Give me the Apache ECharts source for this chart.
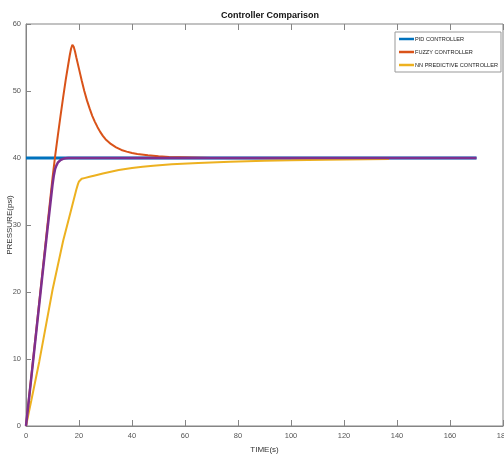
<!DOCTYPE html>
<html>
<head>
<meta charset="utf-8">
<script src="https://cdn.jsdelivr.net/npm/echarts@6/dist/echarts.min.js"></script>
<style>
  html, body { margin: 0; padding: 0; background: #fff; }
  #main { width: 504px; height: 456px; }
</style>
</head>
<body>
<div id="main"></div>
<script>
// series names (the purple reference trace is not in the legend)
var names = ['PID CONTROLLER', 'FUZZY CONTROLLER', 'NN PREDICTIVE CONTROLLER'];

// PID
var pidT = [0, 170];
var pidV = [40, 40];

// fuzzy
var fuzzyT = [0, 2, 4, 6, 8, 10, 11, 12, 13, 14, 15, 16, 16.5, 17, 17.5, 18, 18.5, 19, 20, 21, 22, 23, 24, 25, 26, 27, 28, 29, 30, 32, 34, 36, 38, 40, 42, 46, 50, 54, 70, 100, 137];
var fuzzyV = [0, 7.4, 14.8, 22.2, 29.6, 37, 40.3, 43.3, 46.2, 49.0, 51.7, 54.1, 55.3, 56.3, 56.9, 56.6, 55.9, 55.0, 53.3, 51.6, 50.0, 48.6, 47.4, 46.3, 45.4, 44.6, 43.9, 43.3, 42.8, 42.1, 41.6, 41.2, 40.95, 40.75, 40.6, 40.4, 40.25, 40.15, 40.0, 39.95, 39.9];

// NN predictive
var nnT = [0, 2, 5, 10, 14, 17, 19, 19.6, 20, 20.5, 21, 22, 24, 26, 29, 32, 35, 40, 44, 48, 55, 65, 77, 90, 100, 113, 137];
var nnV = [0, 3.8, 9.6, 20.3, 27.6, 32.2, 35.3, 36.1, 36.5, 36.75, 36.9, 37.0, 37.2, 37.4, 37.7, 37.95, 38.2, 38.5, 38.7, 38.85, 39.05, 39.25, 39.45, 39.6, 39.65, 39.75, 39.85];

// purple trace
var refT = [0, 2, 4, 6, 8, 10, 10.5, 11, 11.5, 12, 12.5, 13, 14, 15, 16, 20, 170];
var refV = [0, 7.2, 14.5, 21.8, 29.0, 36.0, 37.4, 38.4, 38.9, 39.3, 39.55, 39.7, 39.88, 39.95, 40, 40, 40];

var xTicks = [0, 20, 40, 60, 80, 100, 120, 140, 160, 180];
var yTicks = [0, 10, 20, 30, 40, 50, 60];

function zip(t, v) {
  return t.map(function (x, i) { return [x, v[i]]; });
}

var font = '"Liberation Sans Narrow", "Liberation Sans", Arial, sans-serif';
var axisGray = '#858585';

var myChart = echarts.init(document.getElementById('main'));

var option = {
  backgroundColor: '#fff',
  animation: false,
  title: {
    text: 'Controller Comparison',
    left: 265,
    top: 6,
    textAlign: 'center',
    textStyle: { fontFamily: font, fontSize: 9, fontWeight: 'bold', color: '#111' }
  },
  legend: {
    data: names,
    orient: 'vertical',
    left: 395,
    top: 32,
    icon: 'rect',
    itemWidth: 15,
    itemHeight: 2.5,
    itemGap: 7,
    padding: [4, 3, 4, 4],
    backgroundColor: '#fff',
    borderColor: '#999',
    borderWidth: 1,
    borderRadius: 0,
    textStyle: { fontFamily: font, fontSize: 5.6, color: '#222', padding: [0, 0, 0, -4] }
  },
  grid: {
    left: 26,
    right: 1,
    top: 24,
    bottom: 30,
    containLabel: false,
    outerBoundsMode: 'none',
    show: true,
    borderColor: axisGray,
    borderWidth: 1
  },
  xAxis: [{
    type: 'value',
    min: xTicks[0],
    max: xTicks[xTicks.length - 1],
    interval: 20,
    name: 'TIME(s)',
    nameLocation: 'middle',
    nameGap: 20,
    nameMoveOverlap: false,
    nameTextStyle: { fontFamily: font, fontSize: 8, color: '#333' },
    axisLine: { show: true, lineStyle: { color: axisGray } },
    axisTick: { show: true, inside: true, length: 6, lineStyle: { color: axisGray } },
    axisLabel: { fontFamily: font, fontSize: 7.5, color: '#555', margin: 6, hideOverlap: false },
    splitLine: { show: false }
  }, {
    type: 'value',
    position: 'top',
    min: xTicks[0],
    max: xTicks[xTicks.length - 1],
    interval: 20,
    axisLine: { show: false },
    axisTick: { show: true, inside: true, length: 6, lineStyle: { color: axisGray } },
    axisLabel: { show: false },
    splitLine: { show: false }
  }],
  yAxis: {
    type: 'value',
    min: yTicks[0],
    max: yTicks[yTicks.length - 1],
    interval: 10,
    name: 'PRESSURE(psi)',
    nameLocation: 'middle',
    nameGap: 12,
    nameMoveOverlap: false,
    nameTextStyle: { fontFamily: font, fontSize: 8, color: '#333' },
    axisLine: { show: true, lineStyle: { color: axisGray } },
    axisTick: { show: true, inside: true, length: 5, lineStyle: { color: axisGray } },
    axisLabel: { fontFamily: font, fontSize: 7.5, color: '#555', margin: 5 },
    splitLine: { show: false }
  },
  series: [{
    name: names[0],
    type: 'line',
    data: zip(pidT, pidV),
    showSymbol: false,
    color: '#0072BD',
    lineStyle: { width: 3 }
  }, {
    name: names[1],
    type: 'line',
    data: zip(fuzzyT, fuzzyV),
    showSymbol: false,
    color: '#D95319',
    lineStyle: { width: 2 }
  }, {
    name: names[2],
    type: 'line',
    data: zip(nnT, nnV),
    showSymbol: false,
    color: '#EDB120',
    lineStyle: { width: 2 }
  }, {
    name: 'ref',
    type: 'line',
    data: zip(refT, refV),
    showSymbol: false,
    color: '#7E2F8E',
    lineStyle: { width: 2.5 }
  }]
};

myChart.setOption(option);
</script>
</body>
</html>
